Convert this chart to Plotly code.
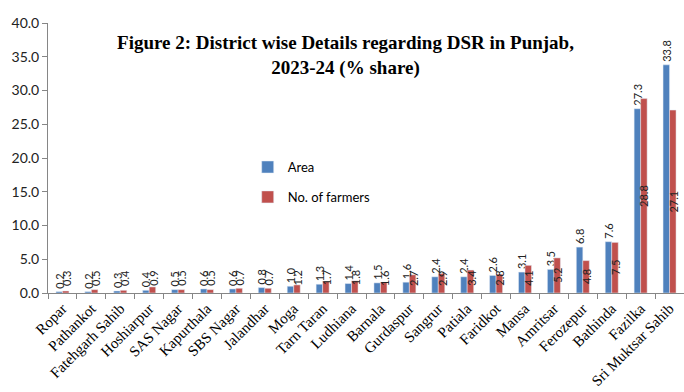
import plotly.graph_objects as go

districts = ["Ropar", "Pathankot", "Fatehgarh Sahib", "Hoshiarpur", "SAS Nagar", "Kapurthala",
             "SBS Nagar", "Jalandhar", "Moga", "Tarn Taran", "Ludhiana", "Barnala", "Gurdaspur",
             "Sangrur", "Patiala", "Faridkot", "Mansa", "Amritsar", "Ferozepur", "Bathinda",
             "Fazilka", "Sri Muktsar Sahib"]
area = [0.2, 0.2, 0.3, 0.4, 0.5, 0.6, 0.6, 0.8, 1.0, 1.3, 1.4, 1.5, 1.6, 2.4, 2.4, 2.6, 3.1, 3.5,
        6.8, 7.6, 27.3, 33.8]
farmers = [0.3, 0.5, 0.4, 0.9, 0.5, 0.5, 0.7, 0.7, 1.2, 1.7, 1.8, 1.6, 2.7, 2.9, 3.4, 2.8, 4.1, 5.2,
           4.8, 7.5, 28.8, 27.1]
y_ticks = [0, 5, 10, 15, 20, 25, 30, 35, 40]

BLUE = "#4F81BD"
RED = "#C0504D"
SANS = "Lato, 'Open Sans', sans-serif"
SERIF = "'Liberation Serif', 'Times New Roman', serif"

fig = go.Figure()
fig.add_trace(go.Bar(
    x=districts, y=area, name="Area", marker_color=BLUE, legendgroup="a",
    text=[f"{v:.1f}" for v in area], textposition="outside", textangle=-90,
    constraintext="none", cliponaxis=False,
    textfont=dict(family=SANS, size=11, color="#222"),
))
fig.add_trace(go.Bar(
    x=districts, y=farmers, name="No. of farmers", marker_color=RED, legendgroup="b",
))

# farmers labels: centered in the red bar, lifted when the bar is too short
for d, v in zip(districts, farmers):
    fig.add_annotation(
        x=d, y=max(v / 2, 2.2), xref="x", yref="y", text=f"{v:.1f}", textangle=-90,
        showarrow=False, xshift=3.5, font=dict(family=SANS, size=11, color="#222"),
    )

fig.update_layout(
    width=684, height=392,
    margin=dict(l=48, r=0, t=23, b=99),
    paper_bgcolor="white", plot_bgcolor="white",
    barmode="group", bargap=0.55, bargroupgap=0,
    title=dict(
        text="<b>Figure 2: District wise Details regarding DSR in Punjab,<br>2023-24 (% share)</b>",
        xref="paper", x=(345.5 - 48) / 636, xanchor="center",
        yref="container", y=1 - 49 / 392, yanchor="middle",
        font=dict(family=SERIF, size=19, color="#000"),
    ),
    legend=dict(
        x=0.314, y=0.522, xanchor="left", yanchor="top",
        font=dict(family=SANS, size=13, color="#000"),
        tracegroupgap=10, itemwidth=30, bgcolor="rgba(0,0,0,0)",
    ),
    xaxis=dict(
        type="category", tickangle=-45, tickson="boundaries", ticks="outside",
        ticklen=5, tickcolor="#868686", showline=True, linecolor="#868686",
        tickfont=dict(family=SERIF, size=15, color="#000"), showgrid=False,
        automargin=False,
    ),
    yaxis=dict(
        range=[0, 40], tickvals=y_ticks, tickformat=".1f", ticks="outside", ticklen=5,
        tickcolor="#868686", showline=True, linecolor="#868686", showgrid=False,
        zeroline=False, tickfont=dict(family=SANS, size=14, color="#222"),
        automargin=False,
    ),
)

fig.write_html("out.html", config={"displayModeBar": False},
               post_script="document.body.style.margin='0px';")
